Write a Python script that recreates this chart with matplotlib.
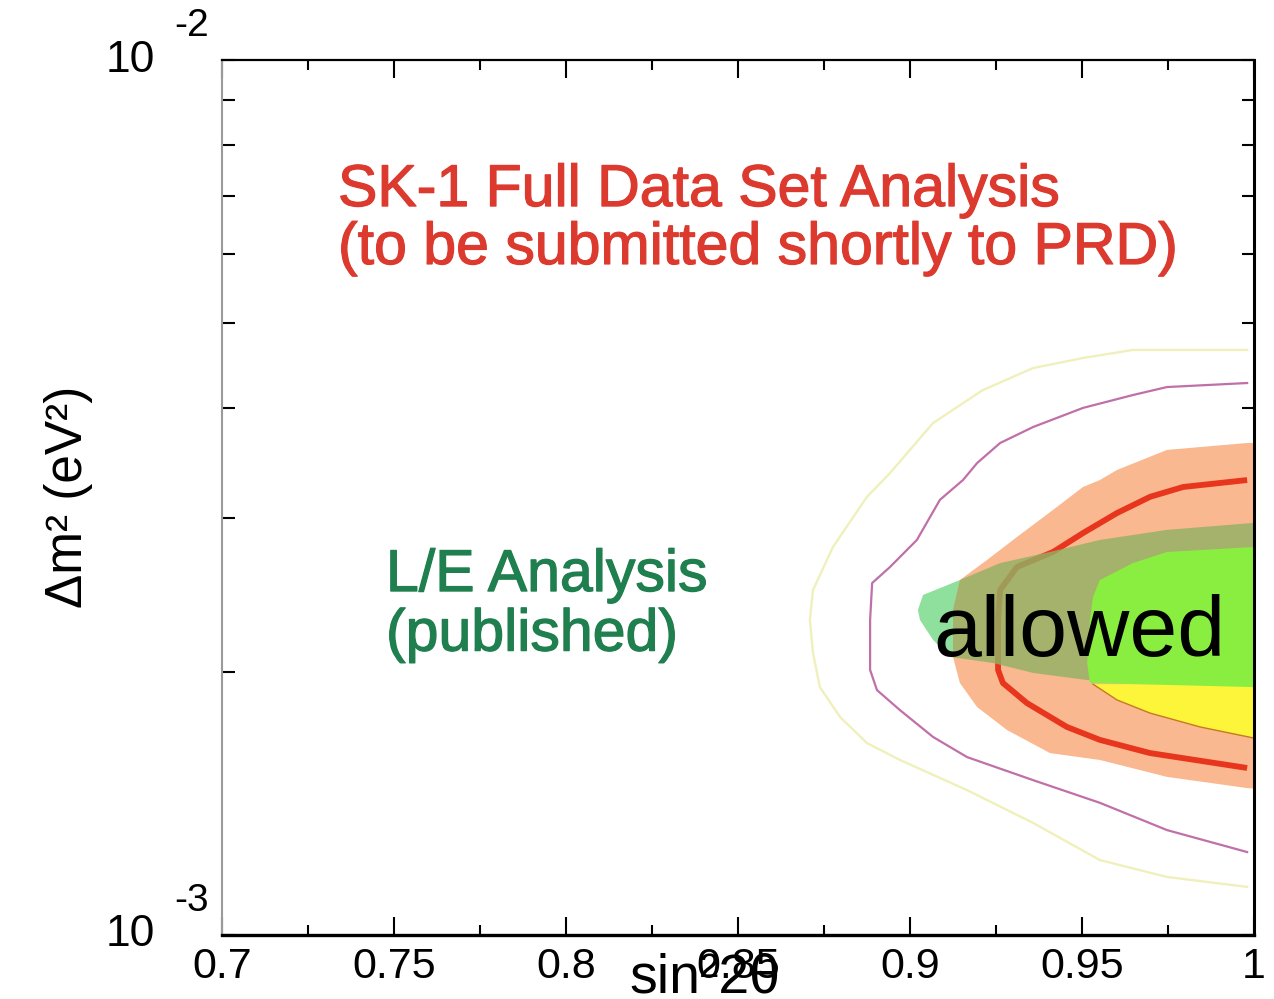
import matplotlib
matplotlib.use("Agg")
import matplotlib.pyplot as plt
import matplotlib.patheffects as pe
from matplotlib.ticker import NullFormatter, LogLocator, FixedLocator

plt.rcParams['font.family'] = ['Liberation Sans', 'DejaVu Sans']

# ---------------- data (sin^2 2theta, dm^2 in 1e-3 eV^2) ----------------
x_ticks = [0.7, 0.75, 0.8, 0.85, 0.9, 0.95, 1.0]
x_ticklabels = ['0.7', '0.75', '0.8', '0.85', '0.9', '0.95', '1']
x_minor = [0.725, 0.775, 0.825, 0.875, 0.925, 0.975]

# outer pale-yellow SK contour (line)
sk_outer_x = [0.998, 0.9648, 0.9503, 0.9358, 0.9212, 0.9067, 0.8942, 0.8875, 0.8776, 0.8718,
              0.8709, 0.8718, 0.8738, 0.8797, 0.8875, 0.8971, 0.9166, 0.9358, 0.9552, 0.9747, 0.998]
sk_outer_y = [4.663, 4.663, 4.565, 4.446, 4.196, 3.847, 3.373, 3.168, 2.776, 2.479,
              2.291, 2.101, 1.920, 1.774, 1.657, 1.585, 1.464, 1.343, 1.218, 1.165, 1.135]

# purple SK contour (line)
sk_mid_x = [0.998, 0.9747, 0.9648, 0.9503, 0.9358, 0.9262, 0.9195, 0.9154, 0.9087, 0.9020, 0.8942,
            0.8890, 0.8884, 0.8884, 0.8904, 0.8971, 0.9067, 0.9166, 0.9358, 0.9552, 0.9747, 0.998]
sk_mid_y = [4.274, 4.229, 4.141, 4.003, 3.807, 3.650, 3.462, 3.311, 3.143, 2.828, 2.634,
            2.525, 2.291, 2.009, 1.905, 1.807, 1.684, 1.597, 1.503, 1.416, 1.318, 1.244]

# orange SK band (filled)
sk_band_x = [1.0, 0.998, 0.9747, 0.9602, 0.9552, 0.9503, 0.9416, 0.9311, 0.9224, 0.9145, 0.9125,
             0.9125, 0.9145, 0.9195, 0.9282, 0.9407, 0.9552, 0.9747, 0.998, 1.0]
sk_band_y = [3.650, 3.650, 3.584, 3.400, 3.311, 3.251, 3.061, 2.850, 2.683, 2.545, 2.352,
             2.079, 1.941, 1.822, 1.715, 1.614, 1.585, 1.516, 1.472, 1.470]

# thick red SK contour (line)
sk_red_x = [0.998, 0.9794, 0.9698, 0.9602, 0.9503, 0.9416, 0.9311, 0.9262, 0.9256, 0.9256,
            0.9270, 0.9340, 0.9456, 0.9552, 0.9698, 0.998]
sk_red_y = [3.311, 3.251, 3.168, 3.036, 2.880, 2.740, 2.634, 2.479, 2.291, 2.009,
            1.941, 1.841, 1.729, 1.671, 1.614, 1.552]

# yellow SK core (filled, visible lower part)
sk_core_x = [0.9532, 0.9602, 0.9698, 0.9843, 1.0, 1.0]
sk_core_y = [1.935, 1.856, 1.793, 1.729, 1.679, 1.935]

# L/E analysis outer region (filled)
le_outer_x = [1.0, 0.9747, 0.9552, 0.9407, 0.9262, 0.9145, 0.9038, 0.9023, 0.9029, 0.9067,
              0.9116, 0.9241, 0.9358, 0.9515, 1.0]
le_outer_y = [2.958, 2.904, 2.828, 2.740, 2.661, 2.545, 2.447, 2.352, 2.291, 2.174,
              2.079, 2.046, 1.993, 1.956, 1.940]

# L/E analysis inner region (filled)
le_inner_x = [1.0, 0.9747, 0.9648, 0.9552, 0.9532, 0.9523, 0.9515, 0.9523, 1.0]
le_inner_y = [2.776, 2.740, 2.661, 2.545, 2.434, 2.291, 2.046, 1.941, 1.920]

UNIT = 1e-3


def sc(v):
    return [a * UNIT for a in v]


fig = plt.figure(figsize=(12.74, 9.99), dpi=100)
ax = fig.add_axes([222 / 1274, 64 / 999, 1032 / 1274, 875 / 999])
ax.set_yscale('log')
ax.set_xlim(0.7, 1.0)
ax.set_ylim(1e-3, 1e-2)

# contours
ax.fill(le_outer_x, sc(le_outer_y), color='#8ee09c', lw=0, zorder=1)
band = ax.fill(sk_band_x, sc(sk_band_y), color='#f9b88f', lw=0, zorder=2)[0]
ax.plot(sk_outer_x, sc(sk_outer_y), color='#f0f0bc', lw=1.7, zorder=2)
ax.plot(sk_mid_x, sc(sk_mid_y), color='#c070a8', lw=1.6, zorder=2)
ax.plot(sk_red_x, sc(sk_red_y), color='#e8361e', lw=4.2, zorder=3, solid_capstyle='butt')
ax.fill(sk_core_x, sc(sk_core_y), color='#fdf53a', lw=0, zorder=3.5)
ax.plot(sk_core_x[:5], sc(sk_core_y[:5]), color='#c8781e', lw=1.0, zorder=3.6)
olive = ax.fill(le_outer_x, sc(le_outer_y), color='#92b163', alpha=0.82, lw=0, zorder=4)[0]
olive.set_clip_path(band)
ax.fill(le_inner_x, sc(le_inner_y), color='#8aee40', lw=0, zorder=5)

# texts
red = '#dc3a2e'
green = '#1f7f4f'
thick_r = [pe.withStroke(linewidth=0.9, foreground=red)]
thick_g = [pe.withStroke(linewidth=0.9, foreground=green)]
ax.text(0.1124, 0.8331, 'SK-1 Full Data Set Analysis', color=red, fontsize=42.5,
        transform=ax.transAxes, ha='left', va='baseline', zorder=6, path_effects=thick_r)
ax.text(0.1124, 0.7669, '(to be submitted shortly to PRD)', color=red, fontsize=42.5,
        transform=ax.transAxes, ha='left', va='baseline', zorder=6, path_effects=thick_r)
ax.text(0.1589, 0.3931, 'L/E Analysis', color=green, fontsize=42.5,
        transform=ax.transAxes, ha='left', va='baseline', zorder=6, path_effects=thick_g)
ax.text(0.1589, 0.3250, '(published)', color=green, fontsize=42.5,
        transform=ax.transAxes, ha='left', va='baseline', zorder=6, path_effects=thick_g)
ax.text(0.689, 0.3189, 'allowed', color='black', fontsize=62,
        transform=ax.transAxes, ha='left', va='baseline', zorder=7)

# axis labels
ax.text(0.468, -0.066, 'sin²2θ', fontsize=40, transform=ax.transAxes,
        ha='center', va='baseline', clip_on=False)
ax.text(-0.1492, 0.5006, 'Δm² (eV²)', fontsize=37, rotation=90, transform=ax.transAxes,
        ha='center', va='center', clip_on=False)

# ticks
ax.set_xticks(x_ticks, labels=x_ticklabels)
ax.xaxis.set_minor_locator(FixedLocator(x_minor))
ax.yaxis.set_major_formatter(NullFormatter())
ax.yaxis.set_minor_locator(LogLocator(base=10, subs=range(2, 10)))
ax.yaxis.set_minor_formatter(NullFormatter())
ax.tick_params(axis='x', which='major', labelsize=31, pad=8.5, length=13, width=1.5,
               direction='in', top=True, bottom=True)
ax.tick_params(axis='x', which='minor', length=7, width=1.5, direction='in', top=True, bottom=True)
ax.tick_params(axis='y', which='both', length=9, width=1.5, direction='in', left=True, right=True)

# y tick labels drawn as 10 with raised exponent
for val, exp in [(1e-2, '-2'), (1e-3, '-3')]:
    ax.annotate('10', xy=(0, val), xycoords=('axes fraction', 'data'), xytext=(-67, 0),
                textcoords='offset pixels', ha='right', va='center', fontsize=32,
                annotation_clip=False)
    ax.annotate(exp, xy=(0, val), xycoords=('axes fraction', 'data'), xytext=(-48, 34),
                textcoords='offset pixels', ha='left', va='center', fontsize=28,
                annotation_clip=False)

# spines
ax.spines['left'].set_color('#9a9a9a')
ax.spines['left'].set_linewidth(1.5)
ax.spines['top'].set_linewidth(1.6)
ax.spines['right'].set_linewidth(2.2)
ax.spines['bottom'].set_linewidth(2.4)
for s in ax.spines.values():
    s.set_zorder(10)

fig.savefig('out.png', dpi=100)
